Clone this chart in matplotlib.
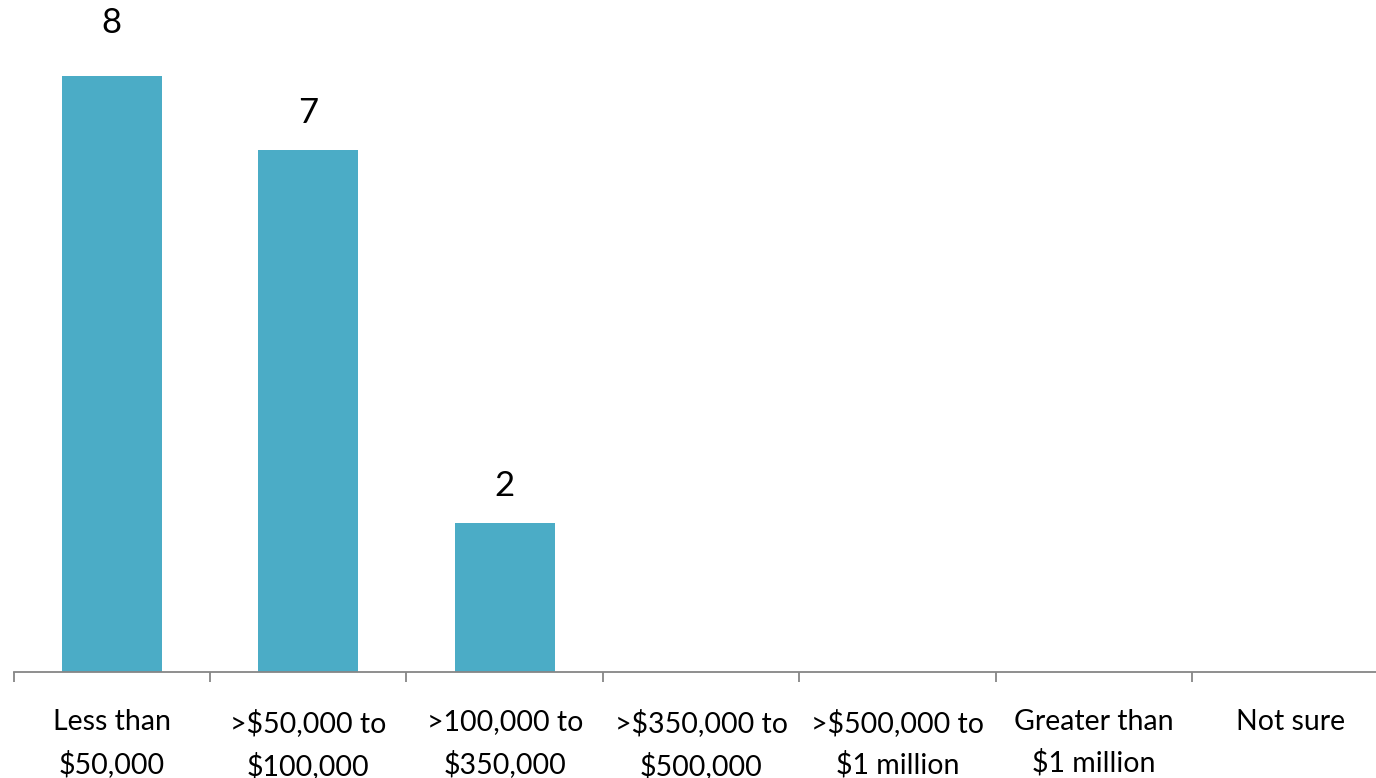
import matplotlib
matplotlib.use('Agg')
import matplotlib.pyplot as plt
from matplotlib.ticker import FixedLocator

categories = ['Less than\n$50,000', '>$50,000 to\n$100,000', '>100,000 to\n$350,000',
              '>$350,000 to\n$500,000', '>$500,000 to\n$1 million', 'Greater than\n$1 million',
              'Not sure']
values = [8, 7, 2, 0, 0, 0, 0]

plt.rcParams['font.family'] = ['Lato', 'DejaVu Sans']

fig = plt.figure(figsize=(13.76, 7.78), dpi=100)
ax = fig.add_axes([13.5 / 1376, 106 / 778, 1 - 13.5 / 1376, 672 / 778])

x = range(len(categories))
ax.bar(x, values, width=0.51, color='#4BACC6')

top = max(values)
for xi, v in zip(x, values):
    if v > 0:
        # the tallest label sits a bit higher, near the top of the plot area
        off = 53 if v == top else 37
        ax.annotate(str(v), (xi, v), xytext=(0, off), textcoords='offset pixels',
                    ha='center', va='center', fontsize=25, color='black')

ax.set_xlim(-0.5, 6.434)
ax.set_ylim(0, 9.02)

for s in ['top', 'right', 'left']:
    ax.spines[s].set_visible(False)
ax.spines['bottom'].set_color('#868686')
ax.spines['bottom'].set_linewidth(1.3)
ax.set_yticks([])

ax.set_xticks(list(x))
ax.set_xticklabels(categories, fontsize=20.5, linespacing=1.62)
ax.tick_params(axis='x', which='major', length=0, pad=27)
ax.xaxis.set_minor_locator(FixedLocator([i - 0.5 for i in range(len(categories))]))
ax.tick_params(axis='x', which='minor', length=7.5, width=1.3, color='#868686')

fig.savefig('out.png', dpi=100)
